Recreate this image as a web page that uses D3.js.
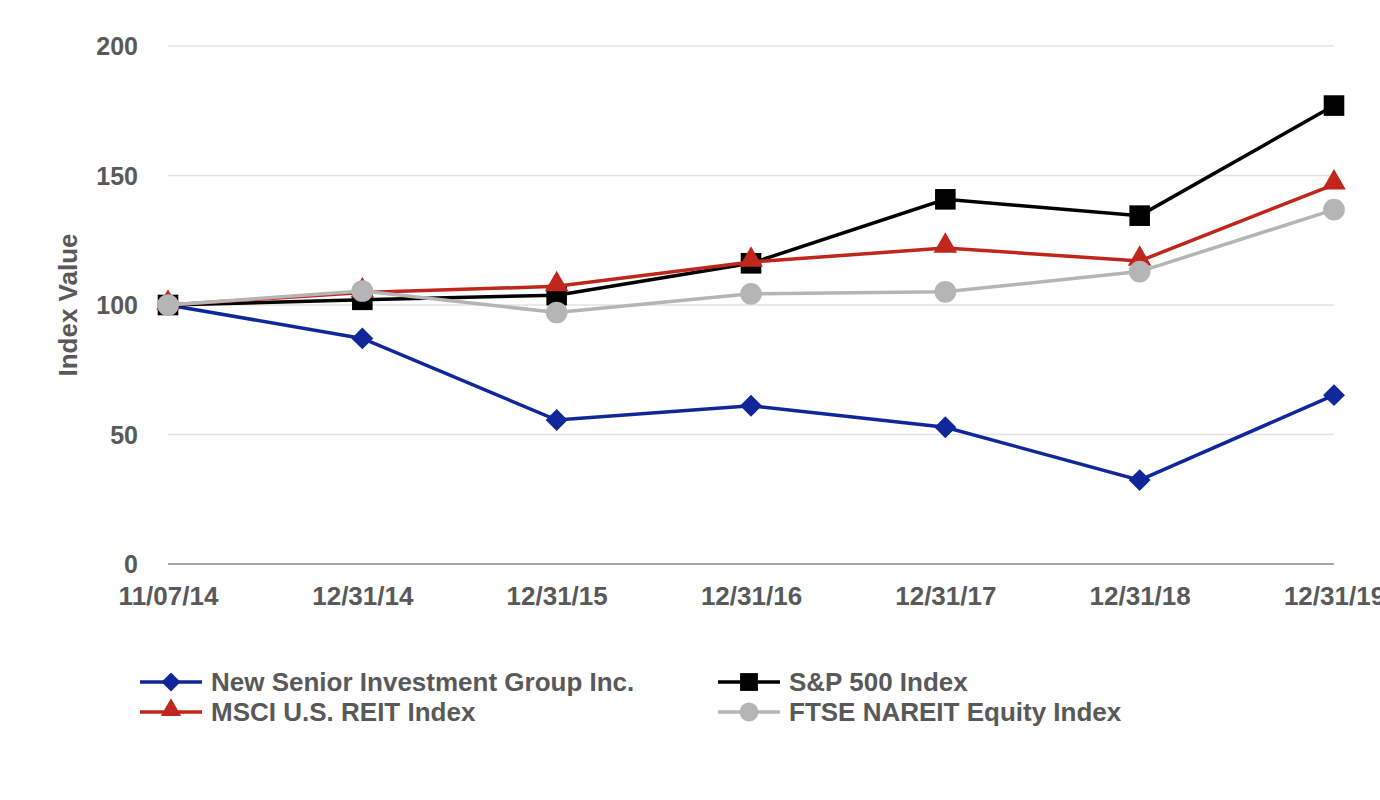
<!DOCTYPE html>
<html>
<head>
<meta charset="utf-8">
<script src="https://cdn.jsdelivr.net/npm/d3@7"></script>
<style>
  body { margin: 0; background: #fff; }
  text { font-family: "Liberation Sans", Arial, sans-serif; font-weight: bold; fill: #595959; }
</style>
</head>
<body>
<div id="chart"></div>
<script>
// data
const dates = ['11/07/14', '12/31/14', '12/31/15', '12/31/16', '12/31/17', '12/31/18', '12/31/19'];
const newSenior = [100, 87.1, 55.6, 61.1, 52.8, 32.4, 65.2];
const sp500 = [100, 102.0, 103.8, 116.1, 140.8, 134.5, 177.0];
const msciReit = [100, 104.8, 107.2, 116.6, 122.0, 117.0, 146.5];
const ftseNareit = [100, 105.4, 97.1, 104.3, 105.1, 112.9, 136.8];
const yTicks = [0, 50, 100, 150, 200];

const series = [
    { name: 'New Senior Investment Group Inc.', values: newSenior, color: '#10279A', symbol: 'diamond' },
    { name: 'S&P 500 Index', values: sp500, color: '#000000', symbol: 'square' },
    { name: 'MSCI U.S. REIT Index', values: msciReit, color: '#C0261B', symbol: 'triangle' },
    { name: 'FTSE NAREIT Equity Index', values: ftseNareit, color: '#B5B5B5', symbol: 'circle' }
];

const W = 1380, H = 800;
const margin = { top: 46, right: 46, bottom: 236, left: 168 };
const width = W - margin.left - margin.right;
const height = H - margin.top - margin.bottom;

const svg = d3.select('#chart').append('svg')
    .attr('width', W)
    .attr('height', H);

const group = svg.append('g')
    .attr('transform', 'translate(' + margin.left + ',' + margin.top + ')');

const xScale = d3.scalePoint().domain(dates).range([0, width]);
const yScale = d3.scaleLinear().domain([0, 200]).range([height, 0]);

// gridlines
group.selectAll('.grid')
    .data(yTicks.filter(d => d > 0))
    .enter()
    .append('line')
    .attr('x1', 0)
    .attr('x2', width)
    .attr('y1', d => yScale(d))
    .attr('y2', d => yScale(d))
    .attr('stroke', '#e3e3e3')
    .attr('stroke-width', 1.5);

group.append('line')
    .attr('x1', 0)
    .attr('x2', width)
    .attr('y1', yScale(0))
    .attr('y2', yScale(0))
    .attr('stroke', '#a6a6a6')
    .attr('stroke-width', 2);

// y axis
const yAxis = d3.axisLeft(yScale).tickValues(yTicks).tickSize(0).tickPadding(30);
const yAxisGroup = group.append('g').call(yAxis);
yAxisGroup.select('.domain').remove();
yAxisGroup.selectAll('text').style('font-size', '25px').attr('dy', '0.35em');

// x axis (last label runs off the right edge, as in the original)
const xAxis = d3.axisBottom(xScale).tickSize(0).tickPadding(23);
const xAxisGroup = group.append('g')
    .attr('transform', 'translate(0,' + height + ')')
    .call(xAxis);
xAxisGroup.select('.domain').remove();
xAxisGroup.selectAll('text').style('font-size', '26px');

// y title
svg.append('text')
    .attr('transform', 'translate(68,' + (margin.top + yScale(100)) + ') rotate(-90)')
    .attr('text-anchor', 'middle')
    .attr('dy', '0.35em')
    .style('font-size', '26px')
    .text('Index Value');

const symbolTypes = {
    square: d3.symbolSquare2,
    triangle: d3.symbolTriangle2,
    circle: d3.symbolCircle
};
const symbolSize = { square: 540, triangle: 400, circle: 370 };

function symbolPath(s, k) {
    if (s.symbol === 'diamond') return d3.symbol(d3.symbolSquare, 240 * k)();
    return d3.symbol(symbolTypes[s.symbol], symbolSize[s.symbol] * k)();
}

function symbolTurn(s) {
    if (s.symbol === 'diamond') return ' rotate(45)';
    if (s.symbol === 'triangle') return ' translate(0,-2)';
    return '';
}

const line = d3.line()
    .x((d, i) => xScale(dates[i]))
    .y(d => yScale(d));

series.forEach(s => {
    const g = group.append('g');
    g.append('path')
        .datum(s.values)
        .attr('fill', 'none')
        .attr('stroke', s.color)
        .attr('stroke-width', 3.5)
        .attr('d', line);

    g.selectAll('.pt')
        .data(s.values)
        .enter()
        .append('path')
        .attr('d', symbolPath(s, 1))
        .attr('transform', (d, i) => 'translate(' + xScale(dates[i]) + ',' + yScale(d) + ')' + symbolTurn(s))
        .attr('fill', s.color);
});

// legend
const legendItems = [
    { s: series[0], x: 140, y: 682 },
    { s: series[1], x: 718, y: 682 },
    { s: series[2], x: 140, y: 712 },
    { s: series[3], x: 718, y: 712 }
];

const legend = svg.append('g');
legendItems.forEach(it => {
    const g = legend.append('g').attr('transform', 'translate(' + it.x + ',' + it.y + ')');
    g.append('line')
        .attr('x1', 0).attr('x2', 62)
        .attr('stroke', it.s.color)
        .attr('stroke-width', 3.5);
    g.append('path')
        .attr('d', symbolPath(it.s, 0.75))
        .attr('transform', 'translate(31,0)' + symbolTurn(it.s))
        .attr('fill', it.s.color);
    g.append('text')
        .attr('x', 71)
        .attr('dy', '0.35em')
        .style('font-size', '26px')
        .text(it.s.name);
});
</script>
</body>
</html>
